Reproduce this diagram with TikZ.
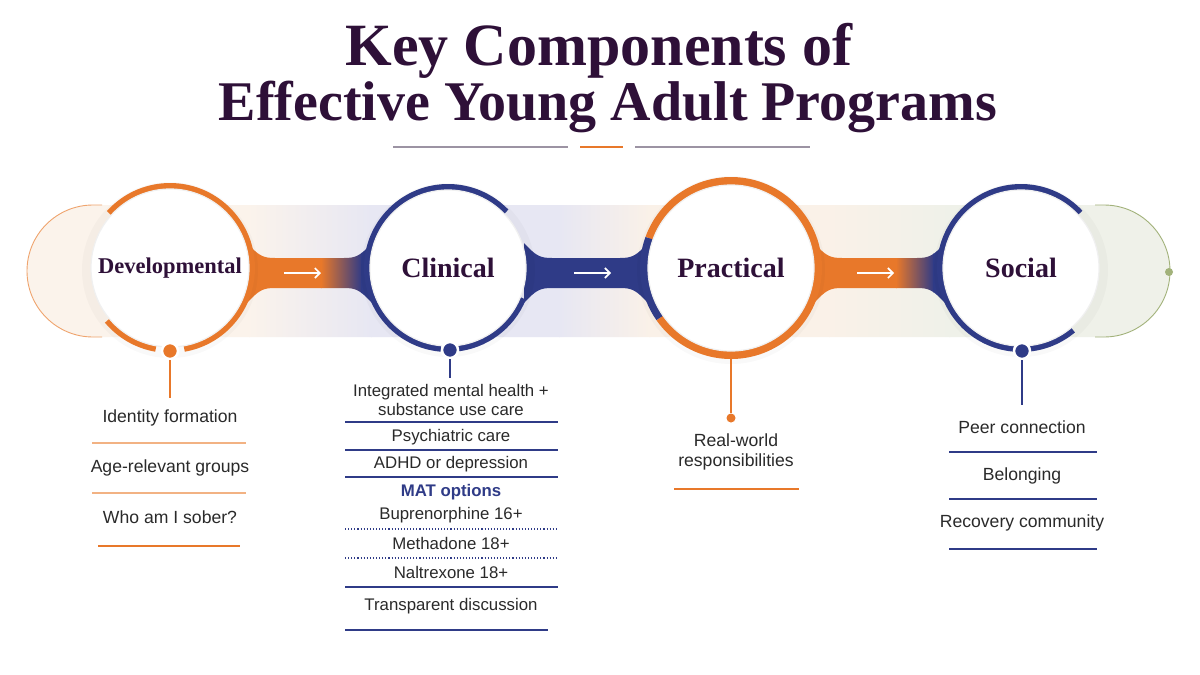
\documentclass[tikz,border=0pt]{standalone}
\usepackage{fontspec}
\setmainfont{Liberation Serif}
\newfontfamily\listfont{Liberation Sans}
\usetikzlibrary{arrows.meta}
\definecolor{orng}{HTML}{E8782A}
\definecolor{lorng}{HTML}{F2B283}
\definecolor{navy}{HTML}{2F3B87}
\definecolor{ttl}{HTML}{2E1038}
\definecolor{txt}{HTML}{2A2A2A}
\definecolor{divg}{HTML}{9C93A3}
\definecolor{peach}{HTML}{FAF1E8}
\definecolor{lav}{HTML}{E7E7F3}
\definecolor{pgreen}{HTML}{EFF1E9}
\definecolor{capor}{HTML}{EFA46E}
\definecolor{capgr}{HTML}{A2B27A}
\newcommand\connpath[2]{(#1-8,-243) .. controls (#1+4,-256) and (#1+8,-258) .. (#1+20,-258) -- (#2-20,-258) .. controls (#2-8,-258) and (#2-4,-256) .. (#2+8,-243) -- (#2+8,-303) .. controls (#2-4,-290) and (#2-8,-288) .. (#2-20,-288) -- (#1+20,-288) .. controls (#1+8,-288) and (#1+4,-290) .. (#1-8,-303) -- cycle}
\tikzset{
  disc/.style={circle, fill=white, draw=black!6, line width=1.2, inner sep=0pt, text=ttl},
  item/.style={font=\listfont\fontsize{17.6}{20.5}\selectfont, text=txt, align=center, inner sep=1pt},
  citem/.style={font=\listfont\fontsize{16.8}{19}\selectfont, text=txt, align=center, inner sep=1pt},
  sep/.style={line width=1.1},
  thick sep/.style={line width=2.6},
  wharrow/.style={white, line width=1.6, -{Straight Barb[length=5pt,width=10pt]}},
  dotnode/.style={circle, draw=white, line width=2.5, inner sep=0pt, minimum size=16},
}
\begin{document}
\begin{tikzpicture}[x=1pt,y=1pt]
\fill[white] (0,0) rectangle (1200,-675);
\useasboundingbox (0,0) rectangle (1200,-675);

% title
\node[anchor=base, font=\fontsize{60}{60}\selectfont\bfseries, text=ttl] (t1) at (599,-65) {Key Components of};
\node[anchor=base, font=\fontsize{56}{56}\selectfont\bfseries, text=ttl] (t2) at (608,-120) {Effective Young Adult Programs};
\draw[divg, line width=1.3] (393,-147) -- (568,-147);
\draw[orng, line width=2.6] (580,-147) -- (623,-147);
\draw[divg, line width=1.3] (635,-147) -- (810,-147);

% background band
\begin{scope}
\clip (93,-205) -- (1104,-205) arc[start angle=90, end angle=-90, radius=66] -- (93,-337) arc[start angle=270, end angle=90, radius=66] -- cycle;
\fill[peach!85!white] (0,-200) rectangle (250,-340);
\shade[left color=peach!85!white, right color=lav] (249,-200) rectangle (372,-340);
\fill[lav] (371,-200) rectangle (560,-340);
\shade[left color=lav, right color=peach] (559,-200) rectangle (650,-340);
\fill[peach] (649,-200) rectangle (830,-340);
\shade[left color=peach, right color=pgreen] (829,-200) rectangle (950,-340);
\fill[pgreen] (949,-200) rectangle (1200,-340);
\end{scope}
\draw[capor, line width=0.9] (102,-205) -- (93,-205) arc[start angle=90, end angle=270, radius=66] -- (102,-337);
\draw[capgr, line width=0.9] (1095,-205) -- (1104,-205) arc[start angle=90, end angle=-90, radius=66] -- (1095,-337);
\fill[capgr] (1169,-272) circle (4);

% connectors
\begin{scope}
\clip \connpath{255}{364};
\fill[orng] (240,-230) rectangle (322,-320);
\shade[left color=orng, right color=navy] (321,-230) rectangle (362,-320);
\fill[navy] (361,-230) rectangle (380,-320);
\end{scope}
\fill[navy] \connpath{532}{640};
\begin{scope}
\clip \connpath{822}{937};
\fill[orng] (810,-230) rectangle (897,-320);
\shade[left color=orng, right color=navy] (896,-230) rectangle (934,-320);
\fill[navy] (933,-230) rectangle (960,-320);
\end{scope}
\coordinate (a1s) at (284,-273); \coordinate (a1e) at (321,-273);
\coordinate (a2s) at (574,-273); \coordinate (a2e) at (611,-273);
\coordinate (a3s) at (857,-273); \coordinate (a3e) at (894,-273);
\draw[wharrow] (a1s) -- (a1e);
\draw[wharrow] (a2s) -- (a2e);
\draw[wharrow] (a3s) -- (a3e);

% circle centres
\coordinate (devc) at (170,-268);
\coordinate (clic) at (448,-268);
\coordinate (prac) at (731,-268);
\coordinate (socc) at (1021,-268);

% soft shadows
\foreach \c/\r in {devc/86, clic/85, prac/92, socc/85}{
  \fill[black, opacity=0.025] ([yshift=-2]\c) circle (\r+2);
}

% rings
\draw[orng, line width=6] ([shift={(138:82)}]devc) arc[start angle=138, end angle=-80, radius=82];
\draw[orng, line width=6] ([shift={(-100:82)}]devc) arc[start angle=-100, end angle=-140, radius=82];
\draw[navy, line width=6] ([shift={(44:81)}]clic) arc[start angle=44, end angle=265, radius=81];
\draw[navy, line width=6] ([shift={(-85:81)}]clic) arc[start angle=-85, end angle=-22, radius=81];
\draw[orng, line width=8] ([shift={(-145:87)}]prac) arc[start angle=-145, end angle=160, radius=87];
\draw[navy, line width=8] ([shift={(160:87)}]prac) arc[start angle=160, end angle=215, radius=87];
\draw[navy, line width=6] ([shift={(43:81)}]socc) arc[start angle=43, end angle=265, radius=81];
\draw[navy, line width=6] ([shift={(-85:81)}]socc) arc[start angle=-85, end angle=-50, radius=81];

% discs with labels
\node[disc, minimum size=158, font=\fontsize{22.5}{24}\selectfont\bfseries] (dev) at (devc) {Developmental};
\node[disc, minimum size=156, font=\fontsize{28}{30}\selectfont\bfseries] (cli) at (clic) {Clinical};
\node[disc, minimum size=166, font=\fontsize{28}{30}\selectfont\bfseries] (pra) at (prac) {Practical};
\node[disc, minimum size=156, font=\fontsize{28}{30}\selectfont\bfseries] (soc) at (socc) {Social};

% dots and stems
\node[dotnode, fill=orng] (devdot) at (170,-351) {};
\node[dotnode, fill=navy] (clidot) at (450,-350) {};
\node[dotnode, fill=navy] (socdot) at (1022,-351) {};
\coordinate (devend) at (170,-398);
\coordinate (cliend) at (450,-378);
\coordinate (socend) at (1022,-405);
\draw[orng, line width=1.5] (devdot.south) -- (devend);
\draw[navy, line width=1.5] (clidot.south) -- (cliend);
\draw[navy, line width=1.5] (socdot.south) -- (socend);
\node[circle, fill=orng, inner sep=0pt, minimum size=9] (pradot) at (731,-418) {};
\draw[orng, line width=1.5] (pra.south) -- (pradot);

% developmental list
\node[item] (d1) at (170,-418) {Identity formation};
\node[item] (d2) at (170,-468) {Age-relevant groups};
\node[item] (d3) at (170,-517) {Who am I sober?};
\draw[lorng, sep] (92,-443) -- (246,-443);
\draw[lorng, sep] (92,-493) -- (246,-493);
\draw[orng, thick sep] (98,-546) -- (240,-546);

% clinical list
\node[citem] (c1) at (451,-399.5) {Integrated mental health +\\substance use care};
\node[citem] (c2) at (451,-437) {Psychiatric care};
\node[citem] (c3) at (451,-464) {ADHD or depression};
\node[citem, text=navy, font=\listfont\bfseries\fontsize{16.8}{19}\selectfont] (c4) at (451,-492) {MAT options};
\node[citem] (c5) at (451,-515) {Buprenorphine 16+};
\node[citem] (c6) at (451,-543) {Methadone 18+};
\node[citem] (c7) at (451,-572) {Naltrexone 18+};
\node[citem] (c8) at (451,-606) {Transparent discussion};
\draw[navy, sep] (345,-422) -- (558,-422);
\draw[navy, sep] (345,-450) -- (558,-450);
\draw[navy, sep] (345,-477) -- (558,-477);
\draw[navy, line width=1.1, dotted] (345,-529) -- (558,-529);
\draw[navy, line width=1.1, dotted] (345,-558) -- (558,-558);
\draw[navy, sep] (345,-587) -- (558,-587);
\draw[navy, thick sep] (345,-630) -- (548,-630);

% practical list
\node[item] (p1) at (736,-452) {Real-world\\responsibilities};
\draw[orng, thick sep] (674,-489) -- (799,-489);

% social list
\node[item] (s1) at (1022,-427) {Peer connection};
\node[item] (s2) at (1022,-476) {Belonging};
\node[item] (s3) at (1022,-523) {Recovery community};
\draw[navy, sep] (949,-452) -- (1097,-452);
\draw[navy, sep] (949,-499) -- (1097,-499);
\draw[navy, thick sep] (949,-549) -- (1097,-549);
\end{tikzpicture}
\end{document}
